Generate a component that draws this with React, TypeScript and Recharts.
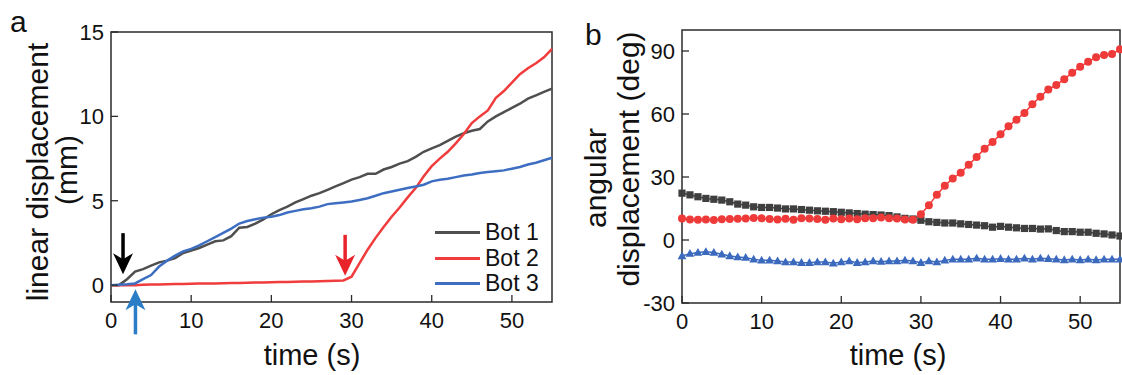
import React from 'react'
import {
  LineChart,
  Line,
  XAxis,
  YAxis,
  ReferenceArea,
  ReferenceDot,
  Legend
} from 'recharts'

const FONT = '"Liberation Sans", Arial, Helvetica, sans-serif'

// time axis (s), one sample per second
const time = [
  0, 1, 2, 3, 4, 5, 6, 7, 8, 9, 10, 11, 12, 13, 14, 15, 16, 17, 18, 19,
  20, 21, 22, 23, 24, 25, 26, 27, 28, 29, 30, 31, 32, 33, 34, 35, 36, 37, 38, 39,
  40, 41, 42, 43, 44, 45, 46, 47, 48, 49, 50, 51, 52, 53, 54, 55
]

// panel a: linear displacement (mm)
const bot1Linear = [
  0, 0, 0.35, 0.8, 0.95, 1.15, 1.35, 1.45, 1.6, 1.9, 2.05, 2.2, 2.4, 2.6, 2.65, 2.9, 3.4, 3.45, 3.65, 3.9,
  4.2, 4.45, 4.65, 4.9, 5.1, 5.3, 5.45, 5.65, 5.85, 6.05, 6.25, 6.4, 6.6, 6.6, 6.85, 7.0, 7.2, 7.35, 7.6, 7.9,
  8.1, 8.3, 8.55, 8.8, 9.0, 9.15, 9.25, 9.7, 10.0, 10.25, 10.5, 10.75, 11.05, 11.25, 11.45, 11.65
]
const bot2Linear = [
  0, 0, 0, 0, 0.02, 0.03, 0.04, 0.05, 0.06, 0.07, 0.08, 0.09, 0.1, 0.1, 0.11, 0.12, 0.13, 0.14, 0.15, 0.16,
  0.17, 0.18, 0.19, 0.2, 0.21, 0.22, 0.23, 0.24, 0.26, 0.28, 0.5, 1.3, 2.1, 2.8, 3.45, 4.05, 4.6, 5.2, 5.75, 6.45,
  7.05, 7.5, 7.9, 8.4, 8.95, 9.6, 10.0, 10.35, 11.1, 11.5, 12.0, 12.5, 12.85, 13.15, 13.5, 14.0
]
const bot3Linear = [
  0, 0.02, 0.05, 0.1, 0.35, 0.6, 1.1, 1.45, 1.75, 2.0, 2.15, 2.35, 2.6, 2.85, 3.1, 3.35, 3.65, 3.8, 3.9, 4.0,
  4.05, 4.15, 4.3, 4.4, 4.5, 4.55, 4.65, 4.8, 4.85, 4.9, 4.95, 5.05, 5.15, 5.3, 5.45, 5.55, 5.65, 5.75, 5.85, 5.95,
  6.15, 6.25, 6.3, 6.4, 6.5, 6.55, 6.65, 6.7, 6.75, 6.8, 6.9, 7.0, 7.15, 7.25, 7.4, 7.55
]

// panel b: angular displacement (deg)
const bot1Angular = [
  22.3, 21.5, 20.6, 19.8, 19.4, 19.0, 18.2, 17.1, 16.6, 15.8, 15.5, 15.5, 15.2, 14.8, 14.8, 14.5, 14.2, 13.9, 13.7, 13.5,
  13.2, 12.9, 12.6, 12.3, 12.1, 11.9, 11.6, 11.0, 10.3, 10.0, 9.4, 8.7, 8.4, 8.1, 8.1, 7.7, 7.4, 7.1, 6.8, 6.1,
  6.5, 6.1, 5.8, 5.5, 5.5, 5.2, 5.3, 4.5, 4.0, 4.0, 3.7, 3.7, 3.2, 2.9, 2.4, 1.9
]
const bot2Angular = [
  10.2, 9.8, 9.6, 9.8, 9.5, 9.9, 10.0, 10.1, 10.2, 10.5, 10.3, 10.0, 9.8, 10.1, 9.7, 10.3, 10.2, 10.0, 9.7, 10.2,
  9.9, 10.2, 9.9, 10.3, 10.3, 10.7, 10.4, 10.2, 9.8, 9.6, 12.3, 16.5, 21.6, 25.8, 29.3, 32.0, 35.8, 39.5, 43.5, 46.7,
  50.3, 54.2, 57.3, 60.5, 64.7, 68.2, 71.7, 73.8, 76.6, 79.6, 82.5, 84.9, 87.0, 88.1, 88.6, 90.8
]
const bot3Angular = [
  -7.6, -6.5, -6.0, -5.6, -6.0, -6.8, -7.6, -8.1, -8.4, -9.2, -9.7, -9.7, -10.0, -10.5, -10.5, -10.8, -10.8, -10.5, -10.5, -11.1,
  -10.5, -10.0, -10.8, -10.5, -10.0, -10.3, -10.0, -10.0, -9.7, -10.0, -10.8, -10.0, -10.5, -9.7, -9.2, -9.2, -9.2, -8.7, -9.2, -9.2,
  -8.9, -9.2, -9.2, -8.7, -9.2, -8.7, -8.9, -9.2, -9.5, -9.2, -9.5, -9.2, -9.5, -9.2, -9.2, -9.2
]

const timeTicks = [0, 10, 20, 30, 40, 50]
const linearTicks = [0, 5, 10, 15]
const angularTicks = [-30, 0, 30, 60, 90]

// start-of-motion markers on panel a (time, displacement at arrow tip)
const blackArrow = { t: 1.5, v: 0.65 }
const redArrow = { t: 29.2, v: 0.55 }
const blueArrow = { t: 3.05, v: -0.25 }

const linearData = time.map((t, i) => ({
  t,
  bot1: bot1Linear[i],
  bot2: bot2Linear[i],
  bot3: bot3Linear[i]
}))

const angularData = time.map((t, i) => ({
  t,
  bot1: bot1Angular[i],
  bot2: bot2Angular[i],
  bot3: bot3Angular[i]
}))

const GRAY = '#4f4f4f'
const RED = '#f03c3c'
const BLUE = '#3d6ec2'
const FRAME = '#2b2b2b'

function BottomTick({ x, y, payload }: any) {
  return (
    <g>
      <line x1={x} y1={y} x2={x} y2={y - 7} stroke={FRAME} strokeWidth={1.3} />
      <text x={x} y={y + 26} textAnchor="middle" fontSize={22} fill="#111" fontFamily={FONT}>
        {payload.value}
      </text>
    </g>
  )
}

function LeftTick({ x, y, payload }: any) {
  return (
    <g>
      <line x1={x} y1={y} x2={x + 7} y2={y} stroke={FRAME} strokeWidth={1.3} />
      <text x={x - 7} y={y} dy="0.36em" textAnchor="end" fontSize={22} fill="#111" fontFamily={FONT}>
        {payload.value}
      </text>
    </g>
  )
}

function TitleA() {
  return (
    <g fontFamily={FONT} fill="#111">
      <text x={10} y={32} fontSize={30}>a</text>
      <text x={48} y={172} fontSize={30} textAnchor="middle" transform="rotate(-90, 48, 172)">
        linear displacement
      </text>
      <text x={77} y={170} fontSize={30} textAnchor="middle" transform="rotate(-90, 77, 170)">
        (mm)
      </text>
    </g>
  )
}

function TitleB() {
  return (
    <g fontFamily={FONT} fill="#111">
      <text x={25} y={45} fontSize={30}>b</text>
      <text x={46} y={178} fontSize={30} textAnchor="middle" transform="rotate(-90, 46, 178)">
        angular
      </text>
      <text x={79} y={159} fontSize={30} textAnchor="middle" transform="rotate(-90, 79, 159)">
        displacement (deg)
      </text>
    </g>
  )
}

function TimeTitle({ cx }: { cx: number }) {
  return (
    <text x={cx} y={365} fontSize={29} textAnchor="middle" fill="#111" fontFamily={FONT}>
      time (s)
    </text>
  )
}

const downArrow = (color: string) => (props: any) => {
  const { cx, cy } = props
  return (
    <g>
      <line x1={cx} y1={cy - 41} x2={cx} y2={cy - 14} stroke={color} strokeWidth={3.5} />
      <path
        d={`M${cx - 10},${cy - 21} L${cx},${cy} L${cx + 10},${cy - 21} L${cx},${cy - 15} Z`}
        fill={color}
      />
    </g>
  )
}

const upArrow = (color: string) => (props: any) => {
  const { cx, cy } = props
  return (
    <g>
      <line x1={cx} y1={cy + 14} x2={cx} y2={cy + 45} stroke={color} strokeWidth={3.5} />
      <path
        d={`M${cx - 10},${cy + 21} L${cx},${cy} L${cx + 10},${cy + 21} L${cx},${cy + 15} Z`}
        fill={color}
      />
    </g>
  )
}

const squareDot = (props: any) => {
  const { cx, cy, index } = props
  return <rect key={`sq-${index}`} x={cx - 3.6} y={cy - 3.6} width={7.2} height={7.2} fill="#3f3f3f" />
}

const circleDot = (props: any) => {
  const { cx, cy, index } = props
  return <circle key={`ci-${index}`} cx={cx} cy={cy} r={4} fill="#ef3a3a" />
}

const triangleDot = (props: any) => {
  const { cx, cy, index } = props
  return (
    <path
      key={`tr-${index}`}
      d={`M${cx},${cy - 4.6} L${cx + 4.4},${cy + 3.2} L${cx - 4.4},${cy + 3.2} Z`}
      fill="#3a69bd"
    />
  )
}

function LegendBox({ payload }: any) {
  return (
    <div style={{ fontFamily: FONT, fontSize: 23, color: '#111' }}>
      {(payload || []).map((entry: any) => (
        <div key={entry.value} style={{ display: 'flex', alignItems: 'center', height: 25.5 }}>
          <span
            style={{ display: 'inline-block', width: 45, height: 3, background: entry.color, marginRight: 5 }}
          />
          <span>{entry.value}</span>
        </div>
      ))}
    </div>
  )
}

export default function App() {
  return (
    <div style={{ position: 'absolute', left: 0, top: 0, width: 1122, height: 375, background: '#fff' }}>
      <div style={{ position: 'absolute', left: 0, top: 0 }}>
        <LineChart
          width={560}
          height={375}
          data={linearData}
          margin={{ top: 32, right: 8, bottom: 43, left: 71 }}
        >
          <XAxis
            dataKey="t"
            type="number"
            domain={[0, 55]}
            ticks={timeTicks}
            interval={0}
            axisLine={false}
            tickLine={false}
            tickSize={0}
            tickMargin={0}
            height={30}
            tick={<BottomTick />}
            label={<TimeTitle cx={312} />}
          />
          <YAxis
            type="number"
            domain={[-1, 15]}
            ticks={linearTicks}
            interval={0}
            axisLine={false}
            tickLine={false}
            tickSize={0}
            tickMargin={0}
            width={40}
            tick={<LeftTick />}
            label={<TitleA />}
          />
          <ReferenceArea x1={0} x2={55} y1={-1} y2={15} fill="none" stroke={FRAME} strokeWidth={1.5} ifOverflow="visible" />
          <Line name="Bot 1" dataKey="bot1" stroke={GRAY} strokeWidth={2.5} dot={false} isAnimationActive={false} type="linear" />
          <Line name="Bot 2" dataKey="bot2" stroke={RED} strokeWidth={2.5} dot={false} isAnimationActive={false} type="linear" />
          <Line name="Bot 3" dataKey="bot3" stroke={BLUE} strokeWidth={2.5} dot={false} isAnimationActive={false} type="linear" />
          <ReferenceDot x={blackArrow.t} y={blackArrow.v} ifOverflow="visible" shape={downArrow('#000')} />
          <ReferenceDot x={redArrow.t} y={redArrow.v} ifOverflow="visible" shape={downArrow('#e8232a')} />
          <ReferenceDot x={blueArrow.t} y={blueArrow.v} ifOverflow="visible" shape={upArrow('#2a7dc6')} />
          <Legend
            layout="horizontal"
            verticalAlign="middle"
            align="center"
            content={<LegendBox />}
            wrapperStyle={{ position: 'absolute', left: 435, top: 220, width: 115 }}
          />
        </LineChart>
      </div>

      <div style={{ position: 'absolute', left: 560, top: 0 }}>
        <LineChart
          width={562}
          height={375}
          data={angularData}
          margin={{ top: 30, right: 2, bottom: 42, left: 82 }}
        >
          <XAxis
            dataKey="t"
            type="number"
            domain={[0, 55]}
            ticks={timeTicks}
            interval={0}
            axisLine={false}
            tickLine={false}
            tickSize={0}
            tickMargin={0}
            height={30}
            tick={<BottomTick />}
            label={<TimeTitle cx={338} />}
          />
          <YAxis
            type="number"
            domain={[-30, 100]}
            ticks={angularTicks}
            interval={0}
            axisLine={false}
            tickLine={false}
            tickSize={0}
            tickMargin={0}
            width={40}
            tick={<LeftTick />}
            label={<TitleB />}
          />
          <ReferenceArea x1={0} x2={55} y1={-30} y2={100} fill="none" stroke={FRAME} strokeWidth={1.5} ifOverflow="visible" />
          <Line name="Bot 1" dataKey="bot1" stroke="#444" strokeWidth={1.5} dot={squareDot} isAnimationActive={false} type="linear" />
          <Line name="Bot 2" dataKey="bot2" stroke="#ef3a3a" strokeWidth={1.5} dot={circleDot} isAnimationActive={false} type="linear" />
          <Line name="Bot 3" dataKey="bot3" stroke="#3a69bd" strokeWidth={1.5} dot={triangleDot} isAnimationActive={false} type="linear" />
        </LineChart>
      </div>
    </div>
  )
}
